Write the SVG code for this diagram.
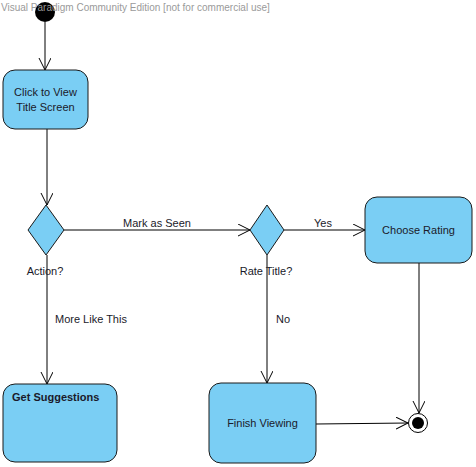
<svg xmlns="http://www.w3.org/2000/svg" width="476" height="467" viewBox="0 0 476 467">
<style>
.node{fill:#7acef4;stroke:#1a1a1a;stroke-width:1}
.t{font-family:"Liberation Sans",Arial,sans-serif;font-size:11px;fill:#1a1a2a}
.c{stroke:#000;stroke-width:1;fill:none}
.wm{font-family:"Liberation Sans",Arial,sans-serif;font-size:10px;fill:#9a9a9a}
</style>
<defs>
<marker id="arr" markerWidth="14" markerHeight="14" refX="12" refY="6" orient="auto" markerUnits="userSpaceOnUse">
<path d="M0,0 L12,6 L0,12" fill="none" stroke="#000" stroke-width="1"/>
</marker>
</defs>
<rect width="476" height="467" fill="#fff"/>
<g id="connectors">
<line class="c" x1="45" y1="22" x2="45" y2="70" marker-end="url(#arr)"/>
<line class="c" x1="47" y1="129" x2="47" y2="205" marker-end="url(#arr)"/>
<line class="c" x1="64" y1="230" x2="250" y2="230" marker-end="url(#arr)"/>
<text class="t" x="157" y="227" text-anchor="middle">Mark as Seen</text>
<line class="c" x1="284" y1="230" x2="365" y2="230" marker-end="url(#arr)"/>
<text class="t" x="323" y="227" text-anchor="middle">Yes</text>
<line class="c" x1="47" y1="255" x2="47" y2="384" marker-end="url(#arr)"/>
<text class="t" x="55" y="323">More Like This</text>
<line class="c" x1="267" y1="255" x2="267" y2="383" marker-end="url(#arr)"/>
<text class="t" x="276" y="323">No</text>
<line class="c" x1="419" y1="263" x2="419" y2="413" marker-end="url(#arr)"/>
<line class="c" x1="316" y1="424" x2="408" y2="423" marker-end="url(#arr)"/>
</g>
<g id="initial">
<circle cx="45" cy="12" r="10" fill="#000"/>
</g>
<text class="wm" x="1" y="11">Visual Paradigm Community Edition [not for commercial use]</text>
<g id="click-view">
<rect class="node" x="3" y="70" width="85" height="59" rx="12"/>
<text class="t" x="45.5" y="96" text-anchor="middle">Click to View</text>
<text class="t" x="45.5" y="111" text-anchor="middle">Title Screen</text>
</g>
<g id="action">
<polygon class="node" points="46,205 64,230 46,255 28,230"/>
<text class="t" x="45" y="275" text-anchor="middle">Action?</text>
</g>
<g id="rate">
<polygon class="node" points="267,205 284,230 267,255 250,230"/>
<text class="t" x="266" y="275" text-anchor="middle">Rate Title?</text>
</g>
<g id="choose-rating">
<rect class="node" x="365" y="197" width="107" height="66" rx="12"/>
<text class="t" x="418.5" y="234" text-anchor="middle">Choose Rating</text>
</g>
<g id="get-suggestions">
<rect class="node" x="3" y="384" width="114" height="78" rx="12"/>
<text class="t" x="12" y="401" font-weight="bold">Get Suggestions</text>
</g>
<g id="finish-viewing">
<rect class="node" x="209" y="383" width="107" height="80" rx="12"/>
<text class="t" x="262.5" y="427" text-anchor="middle">Finish Viewing</text>
</g>
<g id="final">
<circle cx="418" cy="423" r="9.5" fill="#fff" stroke="#000" stroke-width="1"/>
<circle cx="418" cy="423" r="6" fill="#000"/>
</g>
</svg>
